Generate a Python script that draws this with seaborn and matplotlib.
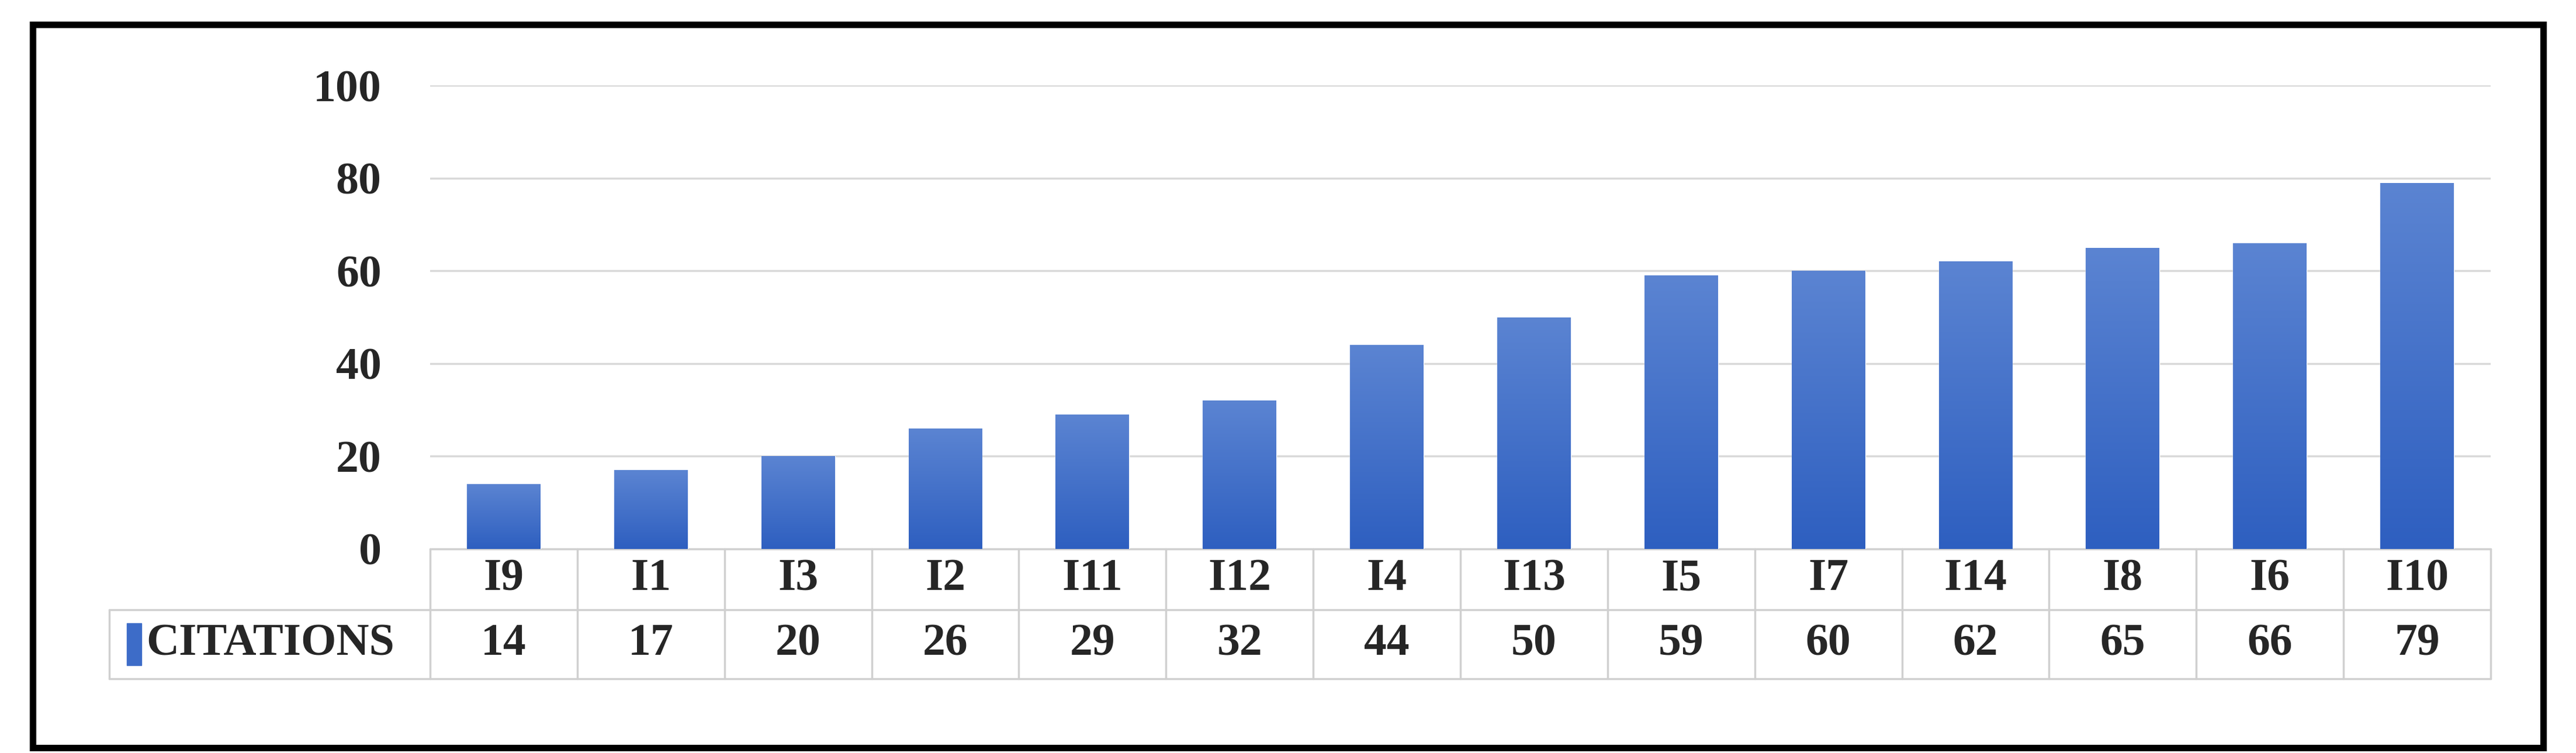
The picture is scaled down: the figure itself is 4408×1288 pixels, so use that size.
import numpy as np
import pandas as pd
import matplotlib
matplotlib.use("Agg")
import matplotlib.pyplot as plt
import matplotlib.patches as mpatches
import matplotlib.transforms as mtrans
import seaborn as sns

items = ["I9", "I1", "I3", "I2", "I11", "I12", "I4", "I13", "I5", "I7", "I14", "I8", "I6", "I10"]
citations = [14, 17, 20, 26, 29, 32, 44, 50, 59, 60, 62, 65, 66, 79]
series_name = "CITATIONS"
yticks = [0, 20, 40, 60, 80, 100]

sns.set_theme(style="white")
plt.rcParams['font.family'] = ['Liberation Serif', 'DejaVu Serif']
plt.rcParams['font.weight'] = 'bold'

df = pd.DataFrame({'item': items, 'cit': citations})

W, H = 4408, 1288
fig = plt.figure(figsize=(W / 100, H / 100), dpi=100)
left, right, top, bottom = 736 / W, 4262 / W, 1 - 146 / H, 1 - 939 / H
ax = fig.add_axes([left, bottom, right - left, top - bottom])

sns.barplot(data=df, x='item', y='cit', color='#3D6CC8', width=0.5, ax=ax,
            saturation=1, zorder=3)

# vertical gradient on each bar
grad = np.linspace(0, 1, 256).reshape(-1, 1)
cmap = matplotlib.colors.LinearSegmentedColormap.from_list('g', ['#2E5FC0', '#5B84D2'])
for bar in ax.patches:
    x0, y0 = bar.get_x(), bar.get_y()
    im = ax.imshow(grad, cmap=cmap, origin='lower', aspect='auto', zorder=4,
                   extent=[x0, x0 + bar.get_width(), y0, y0 + bar.get_height()])
    im.set_clip_path(bar)

fs = 56
ax.set_xlim(-0.5, len(items) - 0.5)
ax.set_ylim(0, 100)
ax.set_yticks(yticks)
ax.set_yticklabels([str(t) for t in yticks], fontsize=fs, fontweight='bold')
ax.tick_params(axis='y', length=0, pad=60)
ax.set_xticks([])
ax.set_xlabel('')
ax.set_ylabel('')
ax.grid(axis='y', color='#d9d9d9', linewidth=2.5, zorder=0)
ax.grid(axis='x', visible=False)
for s in ax.spines.values():
    s.set_visible(False)

# data table under the axis
trans = mtrans.blended_transform_factory(ax.transData, ax.transAxes)
r1, r2 = -0.131, -0.28
xl = -2.68
n = len(items)
lc = '#d0d0d0'
lw = 2.5
kw = dict(transform=trans, clip_on=False, color=lc, lw=lw)
ax.plot([-0.5, n - 0.5], [0, 0], **kw)
ax.plot([xl, n - 0.5], [r1, r1], **kw)
ax.plot([xl, n - 0.5], [r2, r2], **kw)
ax.plot([xl, xl], [r1, r2], **kw)
for i in range(n + 1):
    ax.plot([i - 0.5, i - 0.5], [0, r2], **kw)
for i, (it, c) in enumerate(zip(items, citations)):
    ax.text(i, r1 / 2, it, transform=trans, ha='center', va='center',
            fontsize=fs, fontweight='bold')
    ax.text(i, (r1 + r2) / 2, str(c), transform=trans, ha='center', va='center',
            fontsize=fs, fontweight='bold')
ax.add_patch(mpatches.Rectangle((xl + 0.12, (r1 + r2) / 2 - 0.045), 0.1, 0.09,
                                transform=trans, clip_on=False, color='#3D6CC8'))
ax.text(xl + 0.25, (r1 + r2) / 2, series_name, transform=trans, ha='left',
        va='center', fontsize=fs, fontweight='bold')

# outer frame
fig.patches.append(mpatches.Rectangle((56 / W, 1 - 1279 / H), (4352 - 56) / W,
                                      (1279 - 42) / H, transform=fig.transFigure,
                                      fill=False, edgecolor='black', linewidth=8))

fig.savefig('out.png', dpi=100)
